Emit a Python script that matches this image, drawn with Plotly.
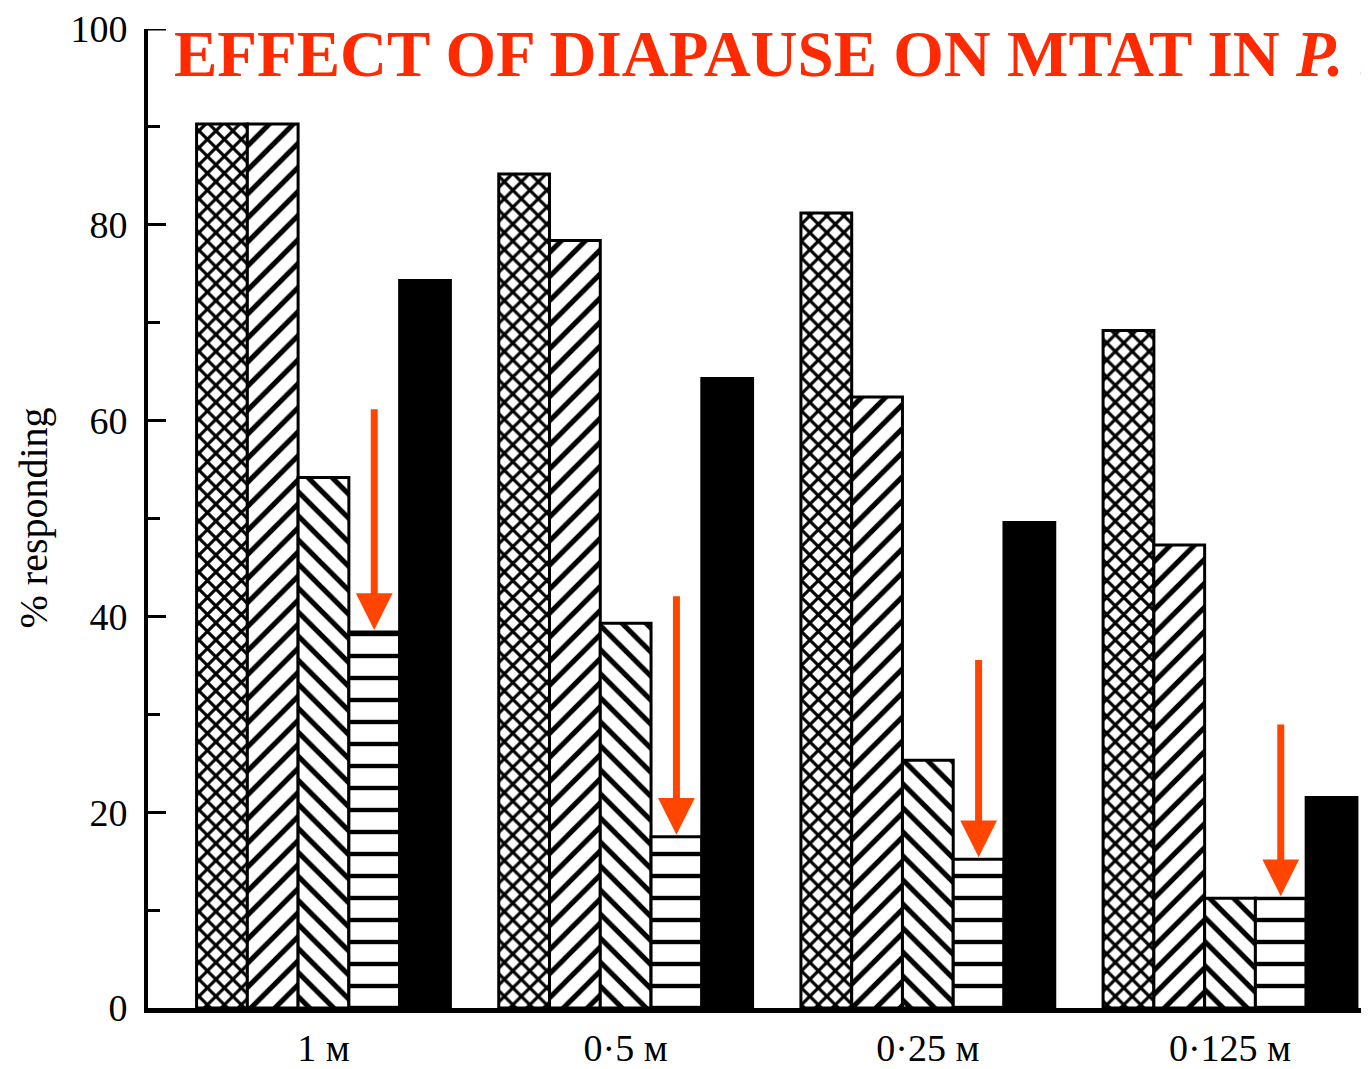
import plotly.graph_objects as go

categories = ["1 м", "0·5 м", "0·25 м", "0·125 м"]
series_names = ["A", "B", "C", "D", "E"]
s1 = [90.3, 85.2, 81.2, 69.2]
s2 = [90.3, 78.4, 62.4, 47.3]
s3 = [54.2, 39.3, 25.3, 11.2]
s4 = [38.4, 17.5, 15.2, 11.2]
s5 = [74.3, 64.3, 49.6, 21.5]
arrow_start = [61.3, 42.2, 35.7, 29.1]
y_ticks = [0, 20, 40, 60, 80, 100]

FONT = "Liberation Serif"
BARGAP = 0.16
xs = list(range(len(categories)))

patterns = [
    dict(shape="x", size=12, solidity=0.45, fgcolor="black", bgcolor="white", fillmode="replace"),
    dict(shape="/", size=17, solidity=0.3, fgcolor="black", bgcolor="white", fillmode="replace"),
    dict(shape="\\", size=17, solidity=0.3, fgcolor="black", bgcolor="white", fillmode="replace"),
    dict(shape="-", size=22, solidity=0.2, fgcolor="black", bgcolor="white", fillmode="replace"),
    None,
]

fig = go.Figure()
for name, vals, pat in zip(series_names, [s1, s2, s3, s4, s5], patterns):
    marker = dict(color="black" if pat is None else "white",
                  line=dict(color="black", width=3))
    if pat is not None:
        marker["pattern"] = pat
    fig.add_trace(go.Bar(x=xs, y=vals, name=name, marker=marker, showlegend=False))

bar_w = (1 - BARGAP) / 5
off4 = (3 - 2) * bar_w
for i, (tip, tail) in enumerate(zip(s4, arrow_start)):
    fig.add_annotation(x=i + off4, y=tip, ax=i + off4, ay=tail, xref="x", yref="y",
                       axref="x", ayref="y", text="", showarrow=True, arrowhead=2,
                       arrowsize=1.05, arrowwidth=7, arrowcolor="#FF4500", standoff=2)

# page body margin offsets the figure by 8px
W, H = 1361, 1061
L, T, B = 140, 17, 51
plot_w = W - L

fig.add_annotation(text="% responding", textangle=-90, xref="paper", yref="paper",
                   x=(25 - L) / plot_w, y=0.5, xanchor="center", yanchor="middle", showarrow=False,
                   font=dict(family=FONT, size=40, color="black"))

fig.add_annotation(text="EFFECT OF DIAPAUSE ON MTAT IN <i>P. brassicae</i>",
                   xref="paper", yref="paper", x=(164 - L) / plot_w, y=1.0,
                   xanchor="left", yanchor="top", showarrow=False, yshift=13,
                   font=dict(family=FONT, size=65, color="#FF2A00", weight="bold"))

# top tick at 100 (Plotly drops the inside tick at the range edge)
fig.add_shape(type="line", xref="paper", yref="y", xsizemode="pixel", xanchor=0,
              x0=0, x1=18, y0=y_ticks[-1], y1=y_ticks[-1],
              line=dict(color="black", width=3))

fig.update_layout(
    width=W, height=H,
    margin=dict(l=L, r=0, t=T, b=B),
    paper_bgcolor="white", plot_bgcolor="white",
    barmode="group", bargap=BARGAP, bargroupgap=0,
    font=dict(family=FONT, size=38, color="black"),
    xaxis=dict(range=[-(323.5 - 148) / 302.2, 3 + (1369 - 1230) / 302.2],
               tickvals=xs, ticktext=categories, showgrid=False, zeroline=False,
               showline=True, linecolor="black", linewidth=5, ticks="",
               ticklabelstandoff=2,
               tickfont=dict(family=FONT, size=38)),
    yaxis=dict(range=[0, 100], tickvals=y_ticks, showgrid=False, zeroline=False,
               showline=True, linecolor="black", linewidth=4,
               ticks="inside", ticklen=18, tickwidth=3, tickcolor="black",
               ticklabelstandoff=9, ticklabeloverflow="allow",
               minor=dict(dtick=10, ticks="inside", ticklen=12, tickwidth=3, tickcolor="black"),
               tickfont=dict(family=FONT, size=38)),
)

fig.write_html("out.html")
